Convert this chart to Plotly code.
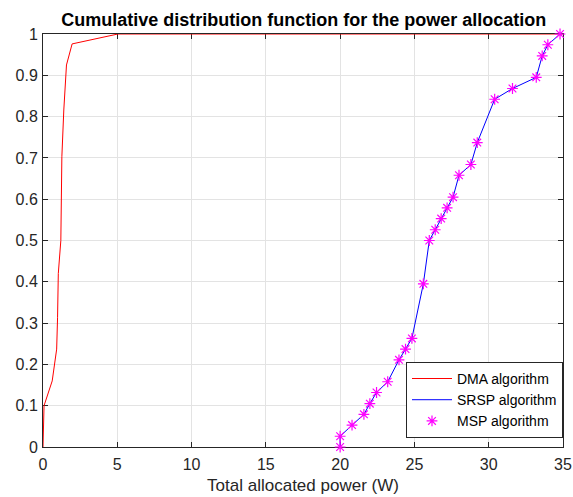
import plotly.graph_objects as go

# DMA algorithm: empirical CDF of total allocated power
dma_power = [0, 0.07, 0.62, 0.92, 0.98, 1.03, 1.2, 1.27, 1.4, 1.47, 1.58, 1.96, 5.04, 35]
dma_cdf = [0, 0.1, 0.16, 0.237, 0.313, 0.42, 0.5, 0.703, 0.816, 0.872, 0.925, 0.976, 1, 1]

# SRSP / MSP algorithms share the same samples
srsp_power = [20.0, 20.0, 20.8, 21.6, 22.0, 22.45, 23.2, 23.96, 24.4, 24.83, 25.6, 26.0, 26.4,
              26.8, 27.2, 27.6, 28.0, 28.8, 29.23, 30.4, 31.6, 33.2, 33.6, 33.98, 34.8]
srsp_cdf = [0, 0.026, 0.053, 0.079, 0.105, 0.132, 0.158, 0.211, 0.237, 0.263, 0.395, 0.5, 0.526,
            0.553, 0.579, 0.605, 0.658, 0.684, 0.737, 0.842, 0.868, 0.895, 0.947, 0.974, 1.0]

x_ticks = [0, 5, 10, 15, 20, 25, 30, 35]
x_tick_text = ["0", "5", "10", "15", "20", "25", "30", "35"]
y_ticks = [0, 0.1, 0.2, 0.3, 0.4, 0.5, 0.6, 0.7, 0.8, 0.9, 1]
y_tick_text = ["0", "0.1", "0.2", "0.3", "0.4", "0.5", "0.6", "0.7", "0.8", "0.9", "1"]

FONT = "Liberation Sans, Arial, sans-serif"
AX = "#262626"

fig = go.Figure()
fig.add_trace(go.Scatter(x=dma_power, y=dma_cdf, mode="lines", name="DMA algorithm",
                         line=dict(color="#ff0000", width=1), cliponaxis=False))
fig.add_trace(go.Scatter(x=srsp_power, y=srsp_cdf, mode="lines", name="SRSP algorithm",
                         line=dict(color="#0000ff", width=1), cliponaxis=False))
fig.add_trace(go.Scatter(x=srsp_power, y=srsp_cdf, mode="markers", name="MSP algorithm",
                         marker=dict(symbol="asterisk", size=9, color="#ff00ff",
                                     line=dict(color="#ff00ff", width=1.2)),
                         cliponaxis=False))

axis_common = dict(showline=True, linecolor=AX, linewidth=1, mirror="ticks",
                   ticks="inside", ticklen=5, tickcolor=AX, tickwidth=1,
                   showgrid=True, gridcolor="#e3e3e3", gridwidth=1,
                   zeroline=False, layer="below traces",
                   ticklabeloverflow="allow", automargin=False,
                   tickfont=dict(family=FONT, size=16, color=AX))

fig.update_xaxes(range=[0, 35], tickvals=x_ticks, ticktext=x_tick_text,
                 ticklabelstandoff=3,
                 title=dict(text="Total allocated power (W)", standoff=6,
                            font=dict(family=FONT, size=17, color=AX)),
                 **axis_common)
fig.update_yaxes(range=[0, 1], tickvals=y_ticks, ticktext=y_tick_text,
                 ticklabelstandoff=1, **axis_common)

fig.update_layout(
    width=573, height=497,
    margin=dict(l=43, r=10, t=34, b=50, autoexpand=False),
    paper_bgcolor="white", plot_bgcolor="white",
    title=dict(text="<b>Cumulative distribution function for the power allocation</b>",
               x=0.53, xanchor="center", y=0.961, yanchor="middle",
               font=dict(family=FONT, size=18, color="black")),
    legend=dict(x=1, xanchor="right", y=0.022, yanchor="bottom",
                bgcolor="white", bordercolor=AX, borderwidth=1,
                font=dict(family=FONT, size=14, color="black"),
                tracegroupgap=0, itemwidth=40),
    showlegend=True,
)

fig.write_html("out.html")
